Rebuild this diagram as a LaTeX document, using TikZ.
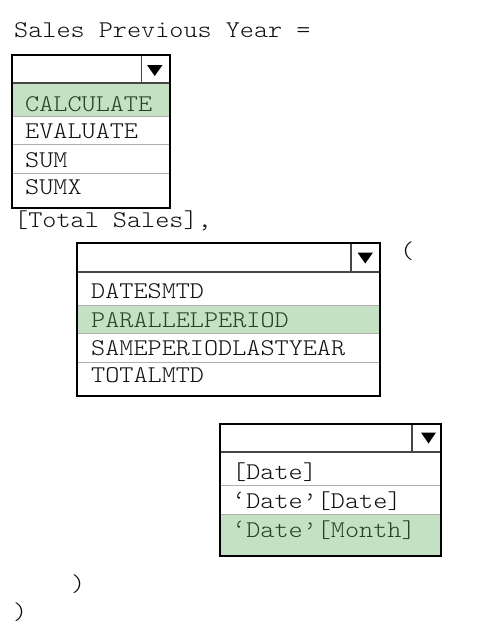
\documentclass[tikz,border=0pt]{standalone}
\usepackage{fontspec}
\newfontfamily\codefont[FakeStretch=1.12]{lmmonolt10-regular.otf}
\definecolor{selgreen}{RGB}{196,225,196}
\definecolor{seltext}{RGB}{38,66,38}
\definecolor{txt}{RGB}{15,15,15}
\definecolor{sepgray}{RGB}{175,175,175}
\definecolor{hdrgray}{RGB}{70,70,70}
\tikzset{
  code/.style={anchor=base west, inner sep=0pt, text=txt, font=\codefont\fontsize{24}{28}\selectfont},
  selitem/.style={code, text=seltext},
  frame/.style={draw=black, line width=1.5pt},
  rowsep/.style={draw=sepgray, line width=1pt},
  hdrsep/.style={draw=hdrgray, line width=1.2pt},
  tri/.style={fill=black}
}
\begin{document}
\begin{tikzpicture}[x=1pt,y=-1pt]
\useasboundingbox[fill=white] (0,0) rectangle (487,641);
% top texts
\node[code] (title) at (14,37) {Sales Previous Year =};
% box 1
\fill[selgreen] (12,83) rectangle (170,116);
\draw[rowsep] (12,144) -- (170,144);
\draw[rowsep] (12,173) -- (170,173);
\draw[rowsep] (12,116) -- (170,116);
\draw[hdrsep] (12,83) -- (170,83);
\draw[hdrsep] (141.5,55) -- (141.5,83);
\fill[tri] (147,65) -- (162.5,65) -- (154.75,76) -- cycle;
\draw[frame] (12,55) rectangle (170,208);
\node[selitem] (b1a) at (25,111) {CALCULATE};
\node[code] (b1b) at (25,138) {EVALUATE};
\node[code] (b1c) at (25,167) {SUM};
\node[code] (b1d) at (25,194) {SUMX};
\node[code] (total) at (14,227) {[Total Sales],};
% box 2
\fill[selgreen] (77,305) rectangle (380,333);
\draw[rowsep] (77,305) -- (380,305);
\draw[rowsep] (77,333) -- (380,333);
\draw[rowsep] (77,362) -- (380,362);
\draw[hdrsep] (77,272) -- (380,272);
\draw[hdrsep] (351,243) -- (351,272);
\fill[tri] (357.5,252.5) -- (373,252.5) -- (365.25,263.5) -- cycle;
\draw[frame] (77,243) rectangle (380,396);
\node[code] (b2a) at (91,298) {DATESMTD};
\node[selitem] (b2b) at (91,327) {PARALLELPERIOD};
\node[code] (b2c) at (91,355) {SAMEPERIODLASTYEAR};
\node[code] (b2d) at (91,382) {TOTALMTD};
\node[code] (lpar) at (400,258) {(};
% box 3
\fill[selgreen] (220,514) rectangle (441,556);
\draw[rowsep] (220,485) -- (441,485);
\draw[rowsep] (220,514) -- (441,514);
\draw[hdrsep] (220,452) -- (441,452);
\draw[hdrsep] (412,424) -- (412,452);
\fill[tri] (421,432.5) -- (436,432.5) -- (428.5,443.5) -- cycle;
\draw[frame] (220,424) rectangle (441,556);
\node[code] (b3a) at (232,479) {[Date]};
\node[code] (b3b) at (232,508) {‘Date’[Date]};
\node[selitem] (b3c) at (232,537) {‘Date’[Month]};
% closing parens
\node[code] (rpar1) at (71,591) {)};
\node[code] (rpar2) at (13,619) {)};
\end{tikzpicture}
\end{document}
